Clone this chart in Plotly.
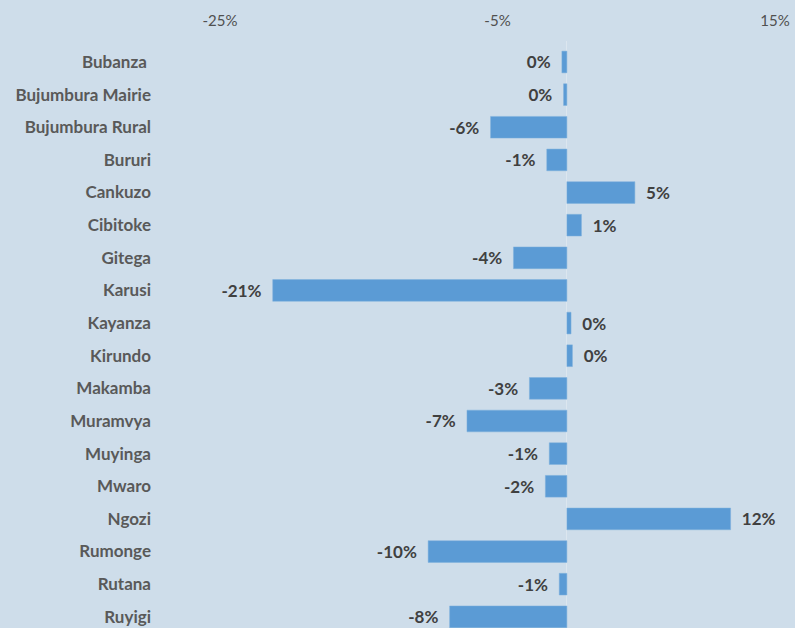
import plotly.graph_objects as go

provinces = ["Bubanza ", "Bujumbura Mairie", "Bujumbura Rural", "Bururi", "Cankuzo", "Cibitoke",
             "Gitega", "Karusi", "Kayanza", "Kirundo", "Makamba", "Muramvya", "Muyinga",
             "Mwaro", "Ngozi", "Rumonge", "Rutana", "Ruyigi"]
change = [-0.36, -0.24, -5.5, -1.45, 4.9, 1.05, -3.85, -21.2, 0.3, 0.4, -2.7, -7.2, -1.27,
          -1.55, 11.8, -10.0, -0.55, -8.45]
tick_vals = [-25, -5, 15]
tick_text = ["-25%", "-5%", "15%"]

PAD = "\u00a0\u00a0"


def pct_label(v):
    r = round(v)
    s = "0%" if r == 0 else f"{r}%"
    # keep a gap between the bar end and its label
    return s + PAD if v < 0 else PAD + s


labels = [pct_label(v) for v in change]

fig = go.Figure(go.Bar(
    x=change, y=provinces, orientation="h",
    marker=dict(color="#5B9BD5", line=dict(color="#7FB0DD", width=0.5)),
    text=labels, textposition="outside", cliponaxis=False,
    textfont=dict(family="Lato", size=17, color="#404040", weight="bold"),
))

fig.update_layout(
    width=795, height=628,
    margin=dict(l=220, r=20, t=41, b=0),
    paper_bgcolor="#CEDDEA", plot_bgcolor="#CEDDEA",
    bargap=0.335, showlegend=False,
    xaxis=dict(range=[-25, 15], side="top", tickvals=tick_vals, ticktext=tick_text,
               showgrid=False, zeroline=True, zerolinecolor="#DCE6EF", zerolinewidth=1,
               showline=False, ticks="", ticklabelstandoff=11,
               tickfont=dict(family="Lato", size=15, color="#505050")),
    yaxis=dict(categoryorder="array", categoryarray=provinces,
               range=[17.343, -0.643], showgrid=False, showline=False, ticks="",
               ticklabelstandoff=68,
               tickfont=dict(family="Lato", size=17, color="#595959", weight="bold")),
)

fig.write_html("out.html", config={"displayModeBar": False},
               post_script="document.body.style.margin='0';")
